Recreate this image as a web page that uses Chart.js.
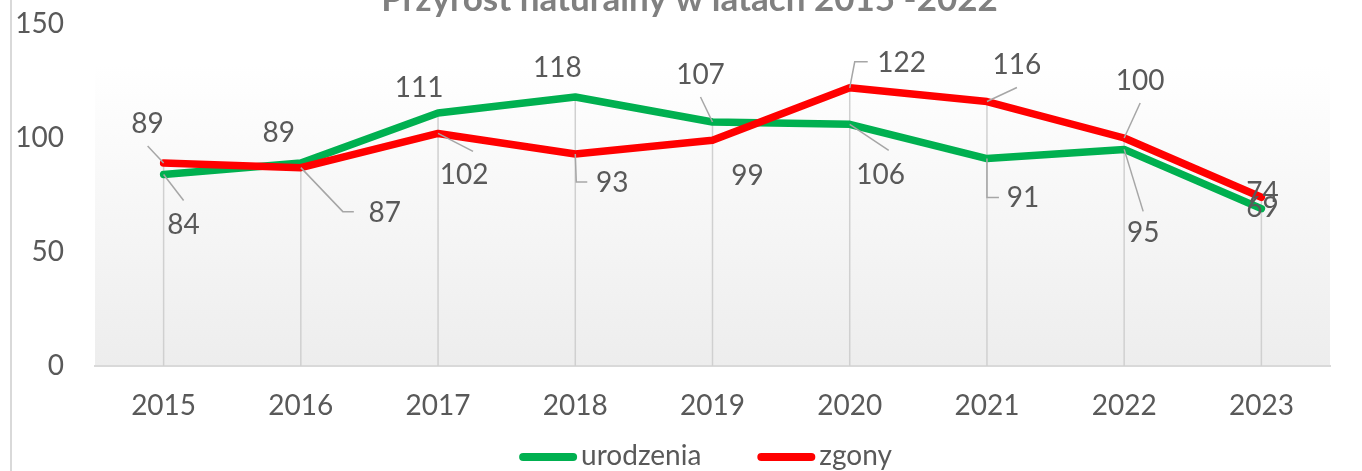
<!DOCTYPE html>
<html>
<head>
<meta charset="utf-8">
<script src="https://cdn.jsdelivr.net/npm/chart.js@4/dist/chart.umd.min.js"></script>
<style>
html,body{margin:0;padding:0;background:#fff;overflow:hidden;width:1362px;height:471px}
#wrap{position:absolute;left:0;top:-25px;width:1362px;height:496px}
#frame{position:absolute;left:10px;top:0;width:1.5px;height:471px;background:#d9d9d9}
</style>
</head>
<body>
<div id="wrap"><canvas id="c"></canvas></div>
<div id="frame"></div>
<script>
// ---- data ----
const categories = ['2015','2016','2017','2018','2019','2020','2021','2022','2023'];
const urodzenia = [84, 89, 111, 118, 107, 106, 91, 95, 69];
const zgony = [89, 87, 102, 93, 99, 122, 116, 100, 74];
const yTicks = [0, 50, 100, 150];
const seriesNames = ['urodzenia', 'zgony'];
const titleText = 'Przyrost naturalny w latach 2015 -2022';

// ---- styling / label placement (px offsets from each point) ----
const seriesColors = ['#00b050', '#ff0000'];
const textColor = '#595959';
const fontFamily = 'Lato, "Open Sans", sans-serif';
const labelOffsets = [
  [[20,50],[-22,-30],[-19,-25],[-18,-29],[-12,-47],[31,51],[36,39],[19,84],[1,-1]],
  [[-16,-39],[84,45],[26,42],[37,29],[35,36],[52,-25],[30,-37],[16,-57],[1,-4]]
];
// leader polylines, relative to label centre (null = no leader)
const leaders = [
  [[[0,-24]], null, null, null, [[0,22]], [[8,-25]], [[-36,0],[-24,0]], [[0,-22]], null],
  [[[0,22]], [[-42,-1],[-31,-1]], [[9,-24]], [[-36,-1],[-25,-1]], null, [[-47,-1],[-34,-1]], [[0,23]], [[0,22]], null]
];

const bgPlugin = {
  id: 'bg',
  beforeDraw(chart) {
    const {ctx, chartArea: a} = chart;
    const g = ctx.createLinearGradient(0, a.top, 0, a.bottom);
    g.addColorStop(0, '#ffffff');
    g.addColorStop(0.12, '#ffffff');
    g.addColorStop(1, '#ededed');
    ctx.save();
    ctx.fillStyle = g;
    ctx.fillRect(a.left, a.top, a.right - a.left, a.bottom - a.top);
    ctx.restore();
  }
};

const titlePlugin = {
  id: 'cutTitle',
  afterDraw(chart) {
    const {ctx, chartArea: a} = chart;
    ctx.save();
    ctx.font = 'bold 35px ' + fontFamily;
    ctx.fillStyle = '#808080';
    ctx.textAlign = 'center';
    ctx.textBaseline = 'alphabetic';
    ctx.fillText(titleText, (a.left + a.right) / 2 - 23, a.top - 13);
    ctx.restore();
  }
};

const dropLinePlugin = {
  id: 'dropLines',
  beforeDatasetsDraw(chart) {
    const {ctx, chartArea: a, scales} = chart;
    ctx.save();
    ctx.strokeStyle = '#d0d0d0';
    ctx.lineWidth = 1.5;
    categories.forEach((c, i) => {
      const top = Math.max(urodzenia[i], zgony[i]);
      const x = scales.x.getPixelForValue(i);
      const y = scales.y.getPixelForValue(top);
      ctx.beginPath();
      ctx.moveTo(x, y);
      ctx.lineTo(x, a.bottom);
      ctx.stroke();
    });
    ctx.restore();
  }
};

const labelPlugin = {
  id: 'pointLabels',
  afterDatasetsDraw(chart) {
    const ctx = chart.ctx;
    ctx.save();
    ctx.font = '28px ' + fontFamily;
    ctx.textAlign = 'center';
    ctx.textBaseline = 'middle';
    chart.data.datasets.forEach((ds, d) => {
      const meta = chart.getDatasetMeta(d);
      meta.data.forEach((pt, i) => {
        const off = labelOffsets[d][i];
        const lx = pt.x + off[0], ly = pt.y + off[1];
        const ld = leaders[d][i];
        if (ld) {
          ctx.strokeStyle = '#a6a6a6';
          ctx.lineWidth = 1.5;
          ctx.beginPath();
          ctx.moveTo(pt.x, pt.y);
          ld.forEach(p => ctx.lineTo(lx + p[0], ly + p[1]));
          ctx.stroke();
        }
        ctx.fillStyle = textColor;
        ctx.fillText(String(ds.data[i]), lx, ly);
      });
    });
    ctx.restore();
  }
};

const legendPlugin = {
  id: 'customLegend',
  afterDraw(chart) {
    const {ctx, chartArea: a} = chart;
    ctx.save();
    ctx.font = '28px ' + fontFamily;
    const sw = 58, gap = 4, itemGap = 56;
    const widths = seriesNames.map(n => ctx.measureText(n).width);
    const total = seriesNames.length * (sw + gap) + widths.reduce((s, w) => s + w, 0) + itemGap * (seriesNames.length - 1);
    let x = (a.left + a.right) / 2 - 7 - total / 2;
    const y = a.bottom + 91;
    seriesNames.forEach((n, k) => {
      ctx.strokeStyle = seriesColors[k];
      ctx.lineWidth = 8;
      ctx.lineCap = 'round';
      ctx.beginPath();
      ctx.moveTo(x + 4, y);
      ctx.lineTo(x + sw - 4, y);
      ctx.stroke();
      ctx.fillStyle = textColor;
      ctx.textAlign = 'left';
      ctx.textBaseline = 'alphabetic';
      ctx.fillText(n, x + sw + gap, y + 8);
      x += sw + gap + widths[k] + itemGap;
    });
    ctx.restore();
  }
};

new Chart(document.getElementById('c'), {
  type: 'line',
  data: {
    labels: categories,
    datasets: [
      { label: seriesNames[0], data: urodzenia, borderColor: seriesColors[0], order: 2 },
      { label: seriesNames[1], data: zgony, borderColor: seriesColors[1], order: 1 }
    ]
  },
  options: {
    responsive: true,
    maintainAspectRatio: false,
    animation: false,
    devicePixelRatio: 1,
    layout: { padding: { left: 0, right: 32, top: 49, bottom: 45 } },
    elements: {
      line: { borderWidth: 7.5, borderCapStyle: 'round', borderJoinStyle: 'round', tension: 0, fill: false },
      point: { radius: 0, hoverRadius: 0 }
    },
    plugins: {
      legend: { display: false },
      tooltip: { enabled: false },
      title: { display: false }
    },
    scales: {
      x: {
        offset: true,
        grid: { display: false, drawTicks: false },
        border: { display: true, color: '#d9d9d9', width: 2 },
        ticks: { color: textColor, font: { family: fontFamily, size: 28 }, padding: 23, maxRotation: 0 },
        afterFit(s) { s.height = 60; }
      },
      y: {
        min: 0, max: 150,
        grid: { display: false, drawTicks: false },
        border: { display: false },
        afterBuildTicks(s) { s.ticks = yTicks.map(v => ({ value: v })); },
        ticks: { color: textColor, font: { family: fontFamily, size: 28 }, padding: 31, callback: v => String(v) },
        afterFit(s) { s.width = 95; }
      }
    }
  },
  plugins: [bgPlugin, dropLinePlugin, labelPlugin, legendPlugin, titlePlugin]
});
</script>
</body>
</html>
